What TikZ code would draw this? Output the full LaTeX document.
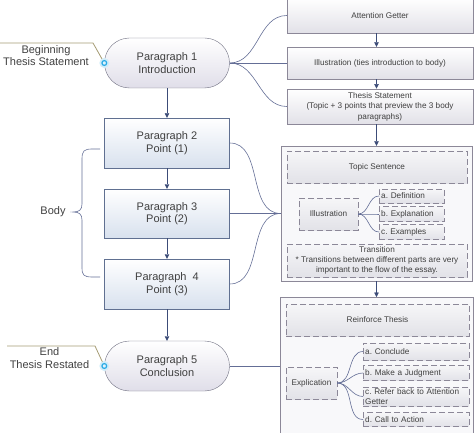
\documentclass[tikz,border=0pt]{standalone}
\usepackage{fontspec}
\setmainfont{Liberation Sans}
\usepackage{tikz}
\usetikzlibrary{arrows.meta}
\usetikzlibrary{calc,positioning}
\frenchspacing

\definecolor{txt}{RGB}{64,64,64}
\definecolor{paraline}{RGB}{96,112,145}
\definecolor{parafill}{RGB}{216,225,238}
\definecolor{termline}{RGB}{110,110,128}
\definecolor{termfill}{RGB}{224,222,233}
\definecolor{boxline}{RGB}{140,136,152}
\definecolor{boxfill}{RGB}{226,225,232}
\definecolor{holdfill}{RGB}{248,248,250}
\definecolor{dfilltop}{RGB}{246,246,248}
\definecolor{dfill}{RGB}{226,226,232}
\definecolor{arrowblue}{RGB}{60,76,120}
\definecolor{linkblue}{RGB}{100,110,150}
\definecolor{tagline}{RGB}{165,155,115}
\definecolor{dotblue}{RGB}{40,170,230}

\begin{document}
\begin{tikzpicture}[x=1pt, y=-1pt, font=\fontsize{11}{12.5}\selectfont, text=txt, para/.style={rectangle, draw=paraline, top color=white, bottom color=parafill, minimum width=125pt, minimum height=50pt, align=center}, term/.style={para, draw=termline, bottom color=termfill, rounded corners=25pt}, part/.style={rectangle, draw=boxline, top color=white, bottom color=boxfill, minimum width=186pt, align=center, font=\fontsize{8.2}{10.5}\selectfont}, holder/.style={rectangle, draw=boxline, fill=holdfill}, dbox/.style={rectangle, draw=boxline, dash pattern=on 6pt off 3pt, top color=dfilltop, bottom color=dfill, font=\fontsize{8.2}{10}\selectfont, inner sep=1pt}, sub/.style={dbox, align=left, text width=#1, inner xsep=2pt, font=\fontsize{8.2}{9.5}\selectfont}, flow/.style={draw=arrowblue, -{Triangle[length=4.5pt,width=4.5pt]}}, link/.style={draw=linkblue, line width=0.6pt}, tag/.style={draw=tagline, line width=0.8pt}]
			\useasboundingbox (0,0) rectangle (474,433);

			% left column
			\node[term] (p1) at (167,63) {Paragraph 1\\Introduction};
			\node[para] (p2) at (167,143) {Paragraph 2\\Point (1)};
			\node[para, minimum height=49pt] (p3) at (167,213.5) {Paragraph 3\\Point (2)};
			\node[para] (p4) at (167,284) {Paragraph\ \ 4\\Point (3)};
			\node[term] (p5) at (167,366) {Paragraph 5\\Conclusion};
			\foreach \a/\b in {p1/p2,p2/p3,p3/p4,p4/p5}
				\draw[flow] (\a) -- (\b);

			\node[align=center] (begin) at (46,55.5) {Beginning\\Thesis Statement};
			\node (body) at (53,212) {Body};
			\node[align=center] (endlbl) at (49.5,358) {End\\Thesis Restated};

			\coordinate (bt) at (0,43);
			\coordinate (et) at (7,346);
			\draw[tag] (bt) -- ++(93,0) -- (p1.west);
			\draw[tag] (et) -- ++(88,0) -- (p5.west);
			\foreach \p in {p1,p5} {
				\fill[dotblue!22] (\p.west) circle (5pt);
				\filldraw[fill=dotblue!15, draw=dotblue, line width=1.2pt] (\p.west) circle (2.4pt);
			}

			\draw[link] (100,149) -- (92,149) .. controls (84,149) and (82,151) .. (82,159) -- (82,204) .. controls (82,210) and (79,212) .. (73,212) .. controls (79,212) and (82,214) .. (82,220) -- (82,268) .. controls (82,275) and (84,277) .. (92,277) -- (100,277);

			% introduction parts
			\node[part, minimum height=35pt] (attn) at (380,15.5) {Attention Getter};
			\node[part, minimum height=32pt] (illus) at (380,63) {Illustration (ties introduction to body)};
			\node[part, minimum height=33pt] (thesis) at (380,106.5) {Thesis Statement\\(Topic + 3 points that preview the 3 body\\paragraphs)};

			% body parts
			\node[holder, minimum width=191pt, minimum height=135pt] (bodybox) at (376.5,213.5) {};
			\node[dbox, minimum width=180pt, minimum height=32pt] (topic) at (377,167) {Topic Sentence};
			\node[dbox, minimum width=59pt, minimum height=32pt] (illbody) at (328.5,214) {Illustration};
			\node[sub=61pt, minimum height=14pt, anchor=west] (defn) at (379,196) {a. Definition};
			\node[sub=61pt, minimum height=15pt, anchor=west] (expl) at (379,214) {b. Explanation};
			\node[sub=61pt, minimum height=15pt, anchor=west] (exmp) at (379,232) {c. Examples};
			\node[dbox, minimum width=180pt, minimum height=33pt, align=center] (trans) at (377,260.5) {Transition\\* Transitions between different parts are very\\important to the flow of the essay.};

			% conclusion parts
			\node[holder, minimum width=193pt, minimum height=160pt, anchor=north] (endbox) at (376.5,297) {};
			\node[dbox, minimum width=183pt, minimum height=32pt] (reinf) at (377.5,320) {Reinforce Thesis};
			\node[dbox, minimum width=51pt, minimum height=32pt] (explic) at (311.5,383) {Explication};
			\node[sub=102pt, minimum height=17pt, anchor=west] (conc) at (363,351.5) {a. Conclude};
			\node[sub=102pt, minimum height=15pt, anchor=west] (judge) at (363,373) {b. Make a Judgment};
			\node[sub=102pt, minimum height=19pt, anchor=west] (refer) at (363,396.5) {c. Refer back to Attention\\Getter};
			\node[sub=102pt, minimum height=14pt, anchor=west] (action) at (363,419.5) {d. Call to Action};

			% connectors
			\draw[link] (p1.east) to[out=0,in=180] (attn.west);
			\draw[link] (p1.east) -- (illus.west);
			\draw[link] (p1.east) to[out=0,in=180] (thesis.west);
			\draw[link] (p2.east) to[out=0,in=180] (bodybox.west);
			\draw[link] (p3.east) -- (bodybox.west);
			\draw[link] (p4.east) to[out=0,in=180] (bodybox.west);
			\draw[link] (p5.east) -- (p5.east -| endbox.west);
			\foreach \s in {defn,expl,exmp}
				\draw[link] (illbody.east) to[out=0,in=180] (\s.west);
			\foreach \s in {conc,judge,refer,action}
				\draw[link] (explic.east) to[out=0,in=180] (\s.west);

			\draw[flow] (attn.south -| bodybox) -- (illus.north -| bodybox);
			\draw[flow] (illus.south -| bodybox) -- (thesis.north -| bodybox);
			\draw[flow] (thesis.south -| bodybox) -- (bodybox.north);
			\draw[flow] (bodybox.south) -- (endbox.north);
		\end{tikzpicture}
\end{document}
